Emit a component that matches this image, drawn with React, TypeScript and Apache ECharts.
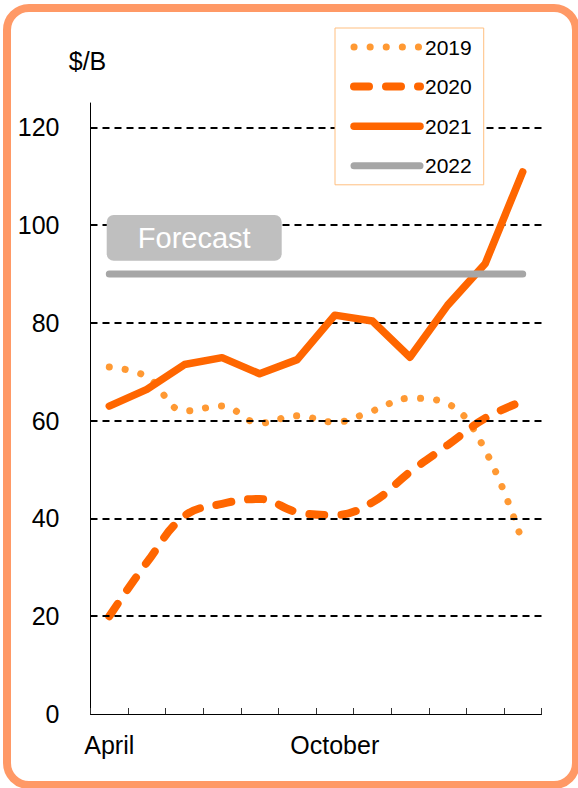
import React, { useEffect, useRef } from "react";
import * as echarts from "echarts";

const months = ["April", "May", "June", "July", "August", "September", "October", "November", "December", "January", "February", "March"];
const shownMonthLabels = ["April", "October"];
const seriesNames = ["2019", "2020", "2021", "2022"];
const values2019 = [71, 69, 62, 63, 59.5, 61, 59.7, 62, 64.6, 63.5, 54, 35];
const values2020 = [20, 31, 40.5, 43, 44, 41.3, 40.7, 43.3, 49.5, 55, 60.5, 64];
const values2021 = [63, 66.4, 71.5, 72.9, 69.6, 72.5, 81.6, 80.4, 73, 83.6, 92.1, 110.9];
const values2022 = [90, 90, 90, 90, 90, 90, 90, 90, 90, 90, 90, 90];
const gridValues = [20, 40, 60, 80, 100, 120];
const yUnit = "$/B";
const forecastLabel = "Forecast";

const FONT = "'Liberation Sans', Arial, sans-serif";

export default function App() {
  const ref = useRef<HTMLDivElement>(null);
  useEffect(() => {
    if (!ref.current) return;
    const chart = echarts.init(ref.current, undefined, { renderer: "svg" });
    chart.setOption({
      animation: false,
      backgroundColor: "#ffffff",
      textStyle: { fontFamily: FONT },
      grid: { left: 90.5, right: 36.5, top: 103, bottom: 74, containLabel: false },
      legend: {
        orient: "vertical",
        left: 335,
        top: 28,
        padding: [8, 12, 8, 15],
        backgroundColor: "#ffffff",
        borderColor: "#FFBF80",
        borderWidth: 1,
        itemWidth: 66,
        itemHeight: 14,
        itemGap: 17.6,
        selectedMode: false,
        data: seriesNames,
        itemStyle: { opacity: 0 },
        lineStyle: { width: "inherit" },
        textStyle: { fontSize: 21, color: "#000", fontFamily: FONT, lineHeight: 22, padding: [0, 0, 0, 0] },
        z: 10,
      },
      xAxis: {
        type: "category",
        data: months,
        boundaryGap: true,
        axisLine: { show: true, lineStyle: { color: "#000", width: 1 } },
        axisTick: { show: true, inside: true, length: 6, lineStyle: { color: "#333" } },
        axisLabel: {
          interval: 0,
          margin: 18,
          fontSize: 25,
          color: "#000",
          fontFamily: FONT,
          formatter: (v: string) => (shownMonthLabels.includes(v) ? v : ""),
        },
        splitLine: { show: false },
      },
      yAxis: {
        type: "value",
        min: 0,
        max: 125,
        interval: 20,
        name: yUnit,
        nameLocation: "end",
        nameGap: 30,
        nameTextStyle: { fontSize: 25, color: "#000", fontFamily: FONT, align: "center", padding: [0, 6, 0, 0] },
        axisLine: { show: true, lineStyle: { color: "#000", width: 1 } },
        axisTick: { show: false },
        axisLabel: { fontSize: 25, color: "#000", margin: 31, fontFamily: FONT, showMaxLabel: false },
        splitLine: { show: false },
      },
      series: [
        {
          name: "grid",
          type: "line",
          data: [],
          z: 1,
          silent: true,
          markLine: {
            silent: true,
            symbol: "none",
            label: { show: false },
            lineStyle: { color: "#000", width: 2, type: [7, 5] },
            data: gridValues.map((v) => ({ yAxis: v })),
          },
        },
        {
          name: seriesNames[0],
          type: "line",
          data: values2019,
          smooth: 0.4,
          symbol: "none",
          z: 3,
          lineStyle: { color: "#FF9933", width: 7, type: [0.1, 16], cap: "round", join: "round" },
          itemStyle: { color: "#FF9933" },
        },
        {
          name: seriesNames[1],
          type: "line",
          data: values2020,
          smooth: 0.4,
          symbol: "none",
          z: 4,
          lineStyle: { color: "#FF6600", width: 8, type: [15, 17], cap: "round", join: "round" },
          itemStyle: { color: "#FF6600" },
        },
        {
          name: seriesNames[2],
          type: "line",
          data: values2021,
          symbol: "none",
          z: 5,
          lineStyle: { color: "#FF6600", width: 7.5, type: "solid", cap: "round", join: "round" },
          itemStyle: { color: "#FF6600" },
        },
        {
          name: seriesNames[3],
          type: "line",
          data: values2022,
          symbol: "none",
          z: 6,
          lineStyle: { color: "#A6A6A6", width: 7, type: "solid", cap: "round", join: "round" },
          itemStyle: { color: "#A6A6A6" },
        },
      ],
      graphic: [
        {
          type: "rect",
          z: 100,
          silent: true,
          shape: { x: 7, y: 8, width: 569, height: 777, r: 22 },
          style: { fill: "none", stroke: "#FF9966", lineWidth: 8 },
        },
        {
          type: "rect",
          z: 100,
          silent: true,
          shape: { x: 106.7, y: 215, width: 175, height: 45.7, r: 7 },
          style: { fill: "#BFBFBF" },
        },
        {
          type: "text",
          z: 101,
          silent: true,
          x: 194.2,
          y: 238,
          style: {
            text: forecastLabel,
            fill: "#ffffff",
            fontSize: 29,
            fontFamily: FONT,
            align: "center",
            verticalAlign: "middle",
          },
        },
      ],
    });
    return () => chart.dispose();
  }, []);
  return <div ref={ref} style={{ position: "fixed", left: 0, top: 0, width: 578, height: 788 }} />;
}
